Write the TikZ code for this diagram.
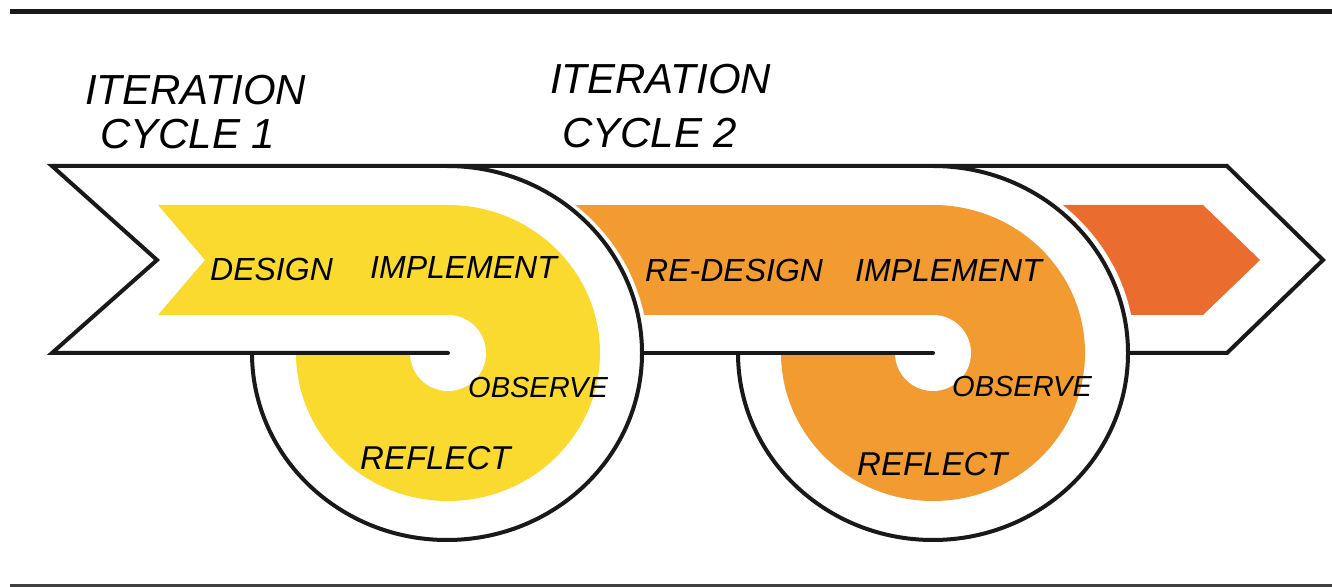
\documentclass[tikz,border=0pt]{standalone}
\usepackage{fontspec}
\setmainfont{Liberation Sans}
\definecolor{cyel}{HTML}{FADA2E}
\definecolor{corg}{HTML}{F29B31}
\definecolor{cred}{HTML}{EA6D2F}
\begin{document}
\begin{tikzpicture}[x=1pt,y=1pt,
  outline/.style={line width=4pt, draw=black!90, line join=miter},
  lbl/.style={font=\fontsize{32}{36}\selectfont\itshape, inner sep=0pt, anchor=base west},
  ttl/.style={font=\fontsize{42}{46}\selectfont\itshape, inner sep=0pt, anchor=base west}]
\useasboundingbox (0,0) rectangle (1332,586);
% frame lines
\draw[line width=5pt, black!90] (10,574) -- (1332,574);
\draw[line width=5pt, black!75] (10,0) -- (1332,0);
% band white
\fill[white] (52,420) -- (1227,420) -- (1323,326) -- (1227,233) -- (52,233) -- (157,326) -- cycle;
% red arrow head
\fill[cred] (1000,381) -- (1203,381) -- (1260,326) -- (1203,271) -- (1000,271) -- cycle;
% circle 2
\fill[white] (933,233) ellipse [x radius=202pt, y radius=193pt];
\draw[outline] (933,420) arc[start angle=90, end angle=-180, x radius=195pt, y radius=187pt];
% orange
\fill[corg] (520,381) -- (933,381) -- (933,271) -- (520,271) -- cycle;
\fill[corg] (933,233) ellipse [x radius=152pt, y radius=148pt];
\fill[white] (650,233) rectangle (933,271);
\fill[white] (933,233) ellipse [x radius=38pt, y radius=38pt];
% circle 1
\fill[white] (447,233) ellipse [x radius=201pt, y radius=192pt];
\draw[outline] (447,420) arc[start angle=90, end angle=-180, x radius=195pt, y radius=187pt];
% yellow
\fill[cyel] (158,381) -- (448,381) -- (448,271) -- (158,271) -- (205,326) -- cycle;
\fill[cyel] (448,233) ellipse [x radius=152pt, y radius=148pt];
\fill[white] (160,233) rectangle (448,271);
\fill[white] (448,233) ellipse [x radius=38pt, y radius=38pt];
% outline of band
\draw[outline, line cap=round] (448,233) -- (52,233) -- (157,326) -- (52,420) -- (1227,420) -- (1323,326) -- (1227,233) -- (1128,233);
\draw[outline, line cap=round] (642,233) -- (933,233);
% texts
\node[ttl] (t1a) at (85,481) {ITERATION};
\node[ttl] (t1b) at (100,437) {CYCLE 1};
\node[ttl] (t2a) at (550,492) {ITERATION};
\node[ttl] (t2b) at (562,438) {CYCLE 2};
\node[lbl] (d1) at (210,305) {DESIGN};
\node[lbl] (i1) at (370,307) {IMPLEMENT};
\node[lbl] (d2) at (645,304) {RE-DESIGN};
\node[lbl] (i2) at (855,304) {IMPLEMENT};
\node[lbl, font=\fontsize{29}{32}\selectfont\itshape] (o1) at (468,188) {OBSERVE};
\node[lbl, font=\fontsize{33}{36}\selectfont\itshape] (r1) at (360,116) {REFLECT};
\node[lbl, font=\fontsize{29}{32}\selectfont\itshape] (o2) at (952,189) {OBSERVE};
\node[lbl, font=\fontsize{33}{36}\selectfont\itshape] (r2) at (857,110) {REFLECT};
\end{tikzpicture}
\end{document}
